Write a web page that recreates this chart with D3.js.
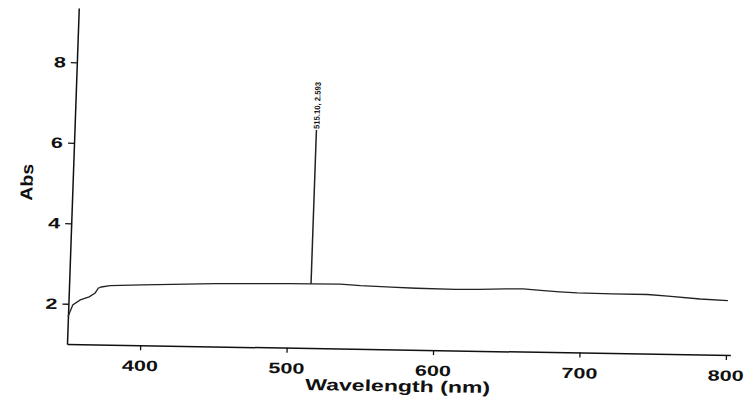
<!DOCTYPE html>
<html>
<head>
<meta charset="utf-8">
<script src="https://cdn.jsdelivr.net/npm/d3@7"></script>
<style>
  body { margin: 0; background: #fff; }
  text { font-family: "Liberation Sans", Arial, sans-serif; fill: #111; }
</style>
</head>
<body>
<svg id="chart" width="748" height="400"></svg>
<script>
// spectrum
var wavelength = [350, 353, 358, 364, 368, 370, 372, 378, 400, 450, 500, 515.1, 535, 549, 570, 587, 614, 630, 648, 660, 672, 685, 697, 721, 745, 759, 781, 800];
var absorbance = [1.68, 1.97, 2.10, 2.18, 2.28, 2.40, 2.43, 2.47, 2.50, 2.56, 2.59, 2.593, 2.60, 2.57, 2.545, 2.53, 2.52, 2.53, 2.55, 2.56, 2.53, 2.50, 2.48, 2.47, 2.47, 2.44, 2.38, 2.35];
var xTicks = [400, 500, 600, 700, 800];
var yTicks = [2, 4, 6, 8];
var peakX = 515.1, peakY = 2.593, peakTop = 6.42;
var peakLabel = "515.10, 2.593";

var svg = d3.select("#chart");

var x = d3.scaleLinear().domain([350, 803]).range([67, 730.4]);
var y = d3.scaleLinear().domain([1, 9.35]).range([344, 8]);

// the scanned page is slightly skewed, so shear the whole plot round its corner
var g = svg.append("g")
  .attr("transform", "translate(67,344) matrix(1,0.0167,-0.035,1,0,0) translate(-67,-344)");

var xAxis = g.append("g")
  .attr("transform", "translate(0," + y(1) + ")")
  .call(d3.axisBottom(x).tickValues(xTicks).tickSize(5).tickSizeOuter(0).tickPadding(8));
xAxis.selectAll("text")
  .attr("font-size", 15)
  .attr("font-weight", "bold")
  .attr("textLength", 36)
  .attr("lengthAdjust", "spacingAndGlyphs")
  .attr("dy", "0.85em");

var yAxis = g.append("g")
  .attr("transform", "translate(" + x(350) + ",0)")
  .call(d3.axisLeft(y).tickValues(yTicks).tickSize(6).tickSizeOuter(0).tickPadding(5));
yAxis.selectAll("text")
  .attr("font-size", 15)
  .attr("font-weight", "bold")
  .attr("textLength", 12)
  .attr("lengthAdjust", "spacingAndGlyphs");

g.selectAll(".domain, .tick line")
  .attr("stroke", "#111")
  .attr("stroke-width", 1.3);
g.selectAll(".domain").attr("stroke-width", 1.5);

var line = d3.line()
  .x(function(d, i){ return x(wavelength[i]); })
  .y(function(d){ return y(d); });

g.append("path")
  .datum(absorbance)
  .attr("d", line)
  .attr("fill", "none")
  .attr("stroke", "#222")
  .attr("stroke-width", 1.3);

// peak pick marker
g.append("line")
  .attr("x1", x(peakX)).attr("x2", x(peakX))
  .attr("y1", y(peakY)).attr("y2", y(peakTop))
  .attr("stroke", "#222")
  .attr("stroke-width", 1.5);

g.append("text")
  .attr("transform", "translate(" + x(peakX) + "," + (y(peakTop) - 1) + ") rotate(-90)")
  .attr("dy", "0.35em")
  .attr("font-size", 8)
  .attr("font-weight", "bold")
  .attr("textLength", 47)
  .attr("lengthAdjust", "spacingAndGlyphs")
  .text(peakLabel);

// axis titles
g.append("text")
  .attr("transform", "translate(27," + y(5.0) + ") rotate(-90)")
  .attr("text-anchor", "middle")
  .attr("font-size", 17)
  .attr("font-weight", "bold")
  .attr("textLength", 37)
  .attr("lengthAdjust", "spacingAndGlyphs")
  .text("Abs");

g.append("text")
  .attr("x", 399)
  .attr("y", 386)
  .attr("text-anchor", "middle")
  .attr("font-size", 16)
  .attr("font-weight", "bold")
  .attr("textLength", 185)
  .attr("lengthAdjust", "spacingAndGlyphs")
  .text("Wavelength (nm)");
</script>
</body>
</html>
